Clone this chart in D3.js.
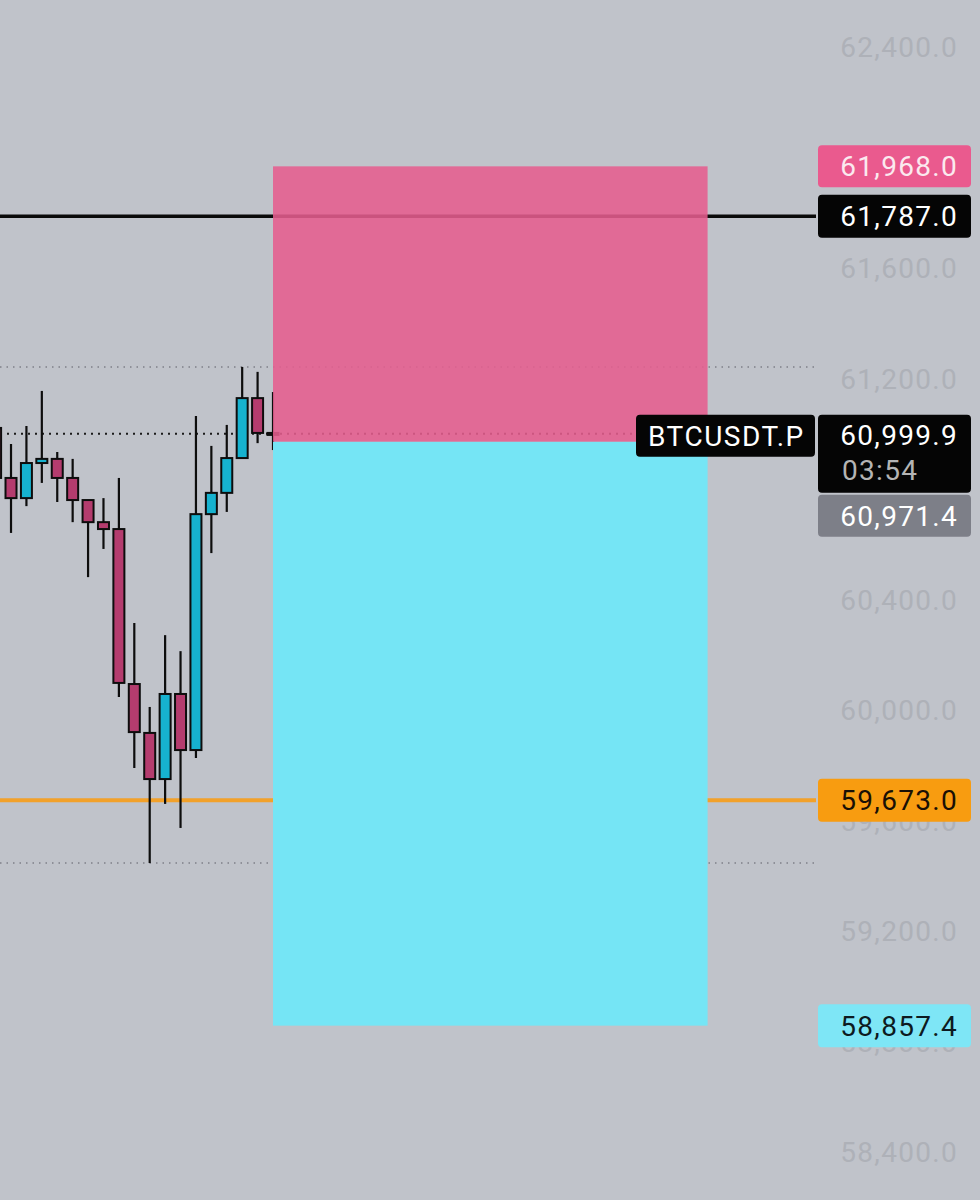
<!DOCTYPE html>
<html>
<meta charset="utf-8">
<script src="https://d3js.org/d3.v7.min.js"></script>
<title>BTCUSDT.P</title>
<style>
  body { margin: 0; background: #c0c3ca; }
  text { font-family: Roboto, "Noto Sans", sans-serif; }
</style>
<body>
<div id="chart"></div>
<script>
// candles, oldest first (index 0 is cut off at the left edge)
var opens  = [61021, 60840, 60767, 60894, 60909, 60840, 60760, 60680, 60655, 60094, 59917, 59750, 60058, 59855, 60709, 60786, 60912, 61129, 61003];
var highs  = [61060, 60963, 61028, 61155, 60934, 60909, 60760, 60767, 60840, 60315, 60011, 60271, 60213, 61064, 60956, 61032, 61242, 61224, 61151];
var lows   = [60800, 60641, 60738, 60822, 60753, 60680, 60481, 60583, 60047, 59790, 59446, 59660, 59573, 59826, 60568, 60717, 60912, 60966, 60941];
var closes = [60840, 60767, 60894, 60909, 60840, 60760, 60680, 60655, 60098, 59920, 59750, 60058, 59855, 60709, 60786, 60912, 61129, 61003, 60999.9];

// price axis ticks (62,000 and 60,800 sit fully under the price tags)
var tickValues = [58400, 58800, 59200, 59600, 60000, 60400, 61200, 61600, 62400];

// drawn lines and the long position tool
var blackLine = 61787.0;
var orangeLine = 59673.0;
var stopPrice = 61968.0;
var entryPrice = 60971.4;
var targetPrice = 58857.4;
var lastPrice = 60999.9;
var countdown = "03:54";
var symbol = "BTCUSDT.P";
var boxStart = 18, boxEnd = 46.2;   // bar indexes

var width = 980, height = 1200, plotRight = 816;

var candles = opens.map(function(o, i) {
  return {i: i, o: o, h: highs[i], l: lows[i], c: closes[i]};
});

var x = d3.scaleLinear().domain([0, 18]).range([-4.4, 273]);
var y = d3.scaleLinear().domain([58400, 62400]).range([1152, 47]);
var fmt = d3.format(",.1f");

var svg = d3.select("#chart").append("svg")
    .attr("width", width)
    .attr("height", height);

svg.append("rect").attr("width", width).attr("height", height).attr("fill", "#c0c3ca");

var plot = svg.append("g");
plot.append("clipPath").attr("id", "clip")
  .append("rect").attr("width", plotRight).attr("height", height);
plot.attr("clip-path", "url(#clip)");

// dotted high / low lines
var hi = d3.max(highs), lo = d3.min(lows);
[hi, lo].forEach(function(v) {
  plot.append("line")
      .attr("x1", 0).attr("x2", plotRight)
      .attr("y1", y(v)).attr("y2", y(v))
      .attr("stroke", "#7d8088").attr("stroke-width", 1.5)
      .attr("stroke-dasharray", "1.5,5");
});

// current price dotted line
plot.append("line")
    .attr("x1", 0).attr("x2", plotRight)
    .attr("y1", y(lastPrice)).attr("y2", y(lastPrice))
    .attr("stroke", "#1a1a1a").attr("stroke-width", 2)
    .attr("stroke-dasharray", "2,5");

// orange horizontal line
plot.append("line")
    .attr("x1", 0).attr("x2", plotRight)
    .attr("y1", y(orangeLine)).attr("y2", y(orangeLine))
    .attr("stroke", "#f2a12a").attr("stroke-width", 4);

// candles
var bw = 11;
var g = plot.selectAll(".candle").data(candles).enter().append("g");
g.append("line")
    .attr("x1", function(d) { return x(d.i); })
    .attr("x2", function(d) { return x(d.i); })
    .attr("y1", function(d) { return y(d.h); })
    .attr("y2", function(d) { return y(d.l); })
    .attr("stroke", "#0d0d0d").attr("stroke-width", 2.2);
g.append("rect")
    .attr("x", function(d) { return x(d.i) - bw / 2; })
    .attr("y", function(d) { return y(Math.max(d.o, d.c)); })
    .attr("width", bw)
    .attr("height", function(d) { return Math.max(2, y(Math.min(d.o, d.c)) - y(Math.max(d.o, d.c))); })
    .attr("fill", function(d) { return d.c >= d.o ? "#16b2cf" : "#b43c6e"; })
    .attr("stroke", "#0d0d0d").attr("stroke-width", 2);

// target zone
plot.append("rect")
    .attr("x", x(boxStart)).attr("width", x(boxEnd) - x(boxStart))
    .attr("y", y(entryPrice)).attr("height", y(targetPrice) - y(entryPrice))
    .attr("fill", "#75e5f5");

// black horizontal line (shows through the stop zone)
plot.append("line")
    .attr("x1", 0).attr("x2", plotRight)
    .attr("y1", y(blackLine)).attr("y2", y(blackLine))
    .attr("stroke", "#0a0a0a").attr("stroke-width", 3.5);

// stop zone
plot.append("rect")
    .attr("x", x(boxStart)).attr("width", x(boxEnd) - x(boxStart))
    .attr("y", y(stopPrice)).attr("height", y(entryPrice) - y(stopPrice))
    .attr("fill", "#e55d8e").attr("fill-opacity", 0.88);

// price scale
var fs = 28, ls = 1.3;
svg.append("g").selectAll("text").data(tickValues).enter().append("text")
    .attr("x", 958).attr("y", function(d) { return y(d); })
    .attr("dy", "0.36em")
    .attr("text-anchor", "end")
    .attr("font-size", fs).attr("letter-spacing", ls)
    .attr("fill", "#aeb1b8")
    .text(function(d) { return fmt(d); });

function priceLabel(cy, h, bg, fg, txt) {
  svg.append("rect")
      .attr("x", 818).attr("y", cy - h / 2).attr("width", 153).attr("height", h)
      .attr("rx", 4).attr("fill", bg);
  svg.append("text")
      .attr("x", 958).attr("y", cy).attr("dy", "0.36em")
      .attr("text-anchor", "end")
      .attr("font-size", fs).attr("letter-spacing", ls)
      .attr("fill", fg).text(txt);
}

priceLabel(y(stopPrice), 42, "#ea5a8e", "#fbe9ef", fmt(stopPrice));
priceLabel(y(blackLine), 43, "#050505", "#ffffff", fmt(blackLine));
priceLabel(y(orangeLine), 43, "#f89c10", "#1a1005", fmt(orangeLine));
priceLabel(y(targetPrice), 43, "#7ee6f6", "#0d1a20", fmt(targetPrice));

// last price with countdown
var lp = y(lastPrice);
svg.append("rect")
    .attr("x", 818).attr("y", lp - 19).attr("width", 153).attr("height", 78)
    .attr("rx", 4).attr("fill", "#050505");
svg.append("text")
    .attr("x", 958).attr("y", lp + 1).attr("dy", "0.36em")
    .attr("text-anchor", "end").attr("font-size", fs).attr("letter-spacing", ls)
    .attr("fill", "#ffffff").text(fmt(lastPrice));
svg.append("text")
    .attr("x", 842).attr("y", lp + 36).attr("dy", "0.36em")
    .attr("font-size", fs).attr("letter-spacing", ls)
    .attr("fill", "#b4b4b4").text(countdown);

// symbol tag
svg.append("rect")
    .attr("x", 636).attr("y", lp - 19).attr("width", 179).attr("height", 42)
    .attr("rx", 4).attr("fill", "#050505");
svg.append("text")
    .attr("x", 648).attr("y", lp + 2).attr("dy", "0.36em")
    .attr("font-size", fs).attr("letter-spacing", 1.5)
    .attr("fill", "#ffffff").text(symbol);

// entry price label, pushed below the last price
var ep = lp + 82;
priceLabel(ep, 42, "#7d7f88", "#ffffff", fmt(entryPrice));
</script>
</body>
</html>
